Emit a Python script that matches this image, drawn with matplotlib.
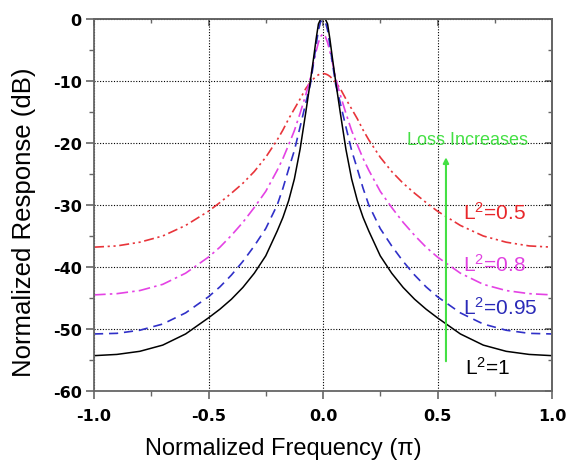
import matplotlib
matplotlib.use('Agg')
import matplotlib.pyplot as plt
from matplotlib.ticker import MultipleLocator

# Frecuencia normalizada (en unidades de pi)
freq = [-1.0, -0.9, -0.8, -0.7, -0.6, -0.5, -0.45, -0.4, -0.35, -0.3, -0.25, -0.2, -0.175, -0.15,
        -0.125, -0.1, -0.075, -0.055, -0.04, -0.03, -0.02, -0.01, 0.0, 0.01, 0.02, 0.03, 0.04,
        0.055, 0.075, 0.1, 0.125, 0.15, 0.175, 0.2, 0.25, 0.3, 0.35, 0.4, 0.45, 0.5, 0.6, 0.7,
        0.8, 0.9, 1.0]

# Respuesta normalizada (dB) para cada valor de L^2
resp_l100 = [-54.3, -54.1, -53.6, -52.6, -50.8, -48.2, -46.8, -45.2, -43.3, -41.0, -38.2, -34.2, -32.0, -29.3,
             -25.8, -21.0, -15.0, -10.0, -6.0, -3.2, -0.8, 0.0, 0.0, 0.0, -0.8, -3.2, -6.0,
             -10.0, -15.0, -21.0, -25.8, -29.3, -32.0, -34.2, -38.2, -41.0, -43.3, -45.2, -46.8, -48.2, -50.8, -52.6,
             -53.6, -54.1, -54.3]
resp_l095 = [-50.8, -50.7, -50.2, -49.2, -47.4, -44.8, -43.2, -41.3, -39.1, -36.6, -33.8, -30.0, -27.3, -24.2,
             -21.2, -17.4, -13.5, -10.5, -6.8, -4.2, -1.8, -0.4, -0.2, -0.4, -1.8, -4.2, -6.8,
             -10.5, -13.5, -17.4, -21.2, -24.2, -27.3, -30.0, -33.8, -36.6, -39.1, -41.3, -43.2, -44.8, -47.4, -49.2,
             -50.2, -50.7, -50.8]
resp_l080 = [-44.5, -44.3, -43.8, -42.8, -41.0, -38.4, -36.8, -34.9, -32.8, -30.4, -27.8, -24.4, -22.5, -20.3,
             -18.0, -15.2, -12.2, -9.5, -6.8, -5.2, -3.8, -2.8, -2.4, -2.8, -3.8, -5.2, -6.8,
             -9.5, -12.2, -15.2, -18.0, -20.3, -22.5, -24.4, -27.8, -30.4, -32.8, -34.9, -36.8, -38.4, -41.0, -42.8,
             -43.8, -44.3, -44.5]
resp_l050 = [-36.8, -36.6, -36.0, -35.0, -33.3, -31.0, -29.6, -28.1, -26.5, -24.6, -22.3, -19.5, -17.9, -16.1,
             -14.5, -12.9, -11.2, -10.2, -9.6, -9.25, -9.0, -8.85, -8.8, -8.85, -9.0, -9.25, -9.6,
             -10.2, -11.2, -12.9, -14.5, -16.1, -17.9, -19.5, -22.3, -24.6, -26.5, -28.1, -29.6, -31.0, -33.3, -35.0,
             -36.0, -36.6, -36.8]

x_ticks = [-1.0, -0.5, 0.0, 0.5, 1.0]
x_tick_labels = ['-1.0', '-0.5', '0.0', '0.5', '1.0']
y_ticks = [0, -10, -20, -30, -40, -50, -60]
y_tick_labels = ['0', '-10', '-20', '-30', '-40', '-50', '-60']

plt.rcParams['font.family'] = ['Liberation Sans', 'DejaVu Sans']
plt.rcParams['axes.unicode_minus'] = False
plt.rcParams['mathtext.fontset'] = 'custom'
plt.rcParams['mathtext.rm'] = 'Liberation Sans'

fig = plt.figure(figsize=(5.68, 4.64), dpi=100)
ax = fig.add_axes([94 / 568, 72 / 464, 458 / 568, 372 / 464])

ax.plot(freq, resp_l050, color='#e8343a', lw=1.2, dashes=(6, 2.2, 1.3, 2.2, 1.3, 2.2))
ax.plot(freq, resp_l080, color='#e442e4', lw=1.2, dashes=(7, 2.5, 1.5, 2.5))
ax.plot(freq, resp_l095, color='#3030c8', lw=1.2, dashes=(5.5, 3.5))
ax.plot(freq, resp_l100, color='black', lw=1.1)

tick_font = dict(family='DejaVu Sans', size=11.5, weight='bold')
ax.set_xlim(-1.0, 1.0)
ax.set_ylim(-60, 0)
ax.set_xticks(x_ticks)
ax.set_xticklabels(x_tick_labels, fontdict=tick_font)
ax.set_yticks(y_ticks)
ax.set_yticklabels(y_tick_labels, fontdict=tick_font)
ax.xaxis.set_minor_locator(MultipleLocator(0.25))
ax.yaxis.set_minor_locator(MultipleLocator(5))
ax.tick_params(which='major', direction='out', length=6, width=1.2, color='#666666')
ax.tick_params(which='minor', direction='out', length=3.5, width=1.0, color='#666666')
ax.tick_params(axis='x', which='major', pad=6)
ax.tick_params(axis='y', which='major', pad=3)
ax.grid(True, which='major', color='black', ls=(0, (1, 1.5)), lw=0.8)

# ticks espejados hacia dentro (arriba y derecha)
top = ax.secondary_xaxis('top')
top.set_xticks(x_ticks)
top.xaxis.set_minor_locator(MultipleLocator(0.25))
top.tick_params(which='both', direction='in', labeltop=False, color='#666666')
top.tick_params(which='major', length=5, width=1.2)
top.tick_params(which='minor', length=3, width=1.0)
right = ax.secondary_yaxis('right')
right.set_yticks(y_ticks)
right.yaxis.set_minor_locator(MultipleLocator(5))
right.tick_params(which='both', direction='in', labelright=False, color='#666666')
right.tick_params(which='major', length=5, width=1.2)
right.tick_params(which='minor', length=3, width=1.0)
for sp in list(ax.spines.values()) + [top.spines['top'], right.spines['right']]:
    sp.set_color('#666666')
    sp.set_linewidth(1.3)

fig.text(283 / 568, 1 - 449 / 464, 'Normalized Frequency (π)', fontsize=17, ha='center', va='center')
fig.text(24 / 568, 1 - 222 / 464, 'Normalized Response (dB)', fontsize=18.5, ha='center', va='center',
         rotation=90)

label_size = 15
ax.text(0.611, -32.3, r'$\mathregular{L^2}$=0.5', color='#e8262a', fontsize=label_size)
ax.text(0.611, -40.6, r'$\mathregular{L^2}$=0.8', color='#e040e0', fontsize=label_size)
ax.text(0.611, -47.6, r'$\mathregular{L^2}$=0.95', color='#2a2ab8', fontsize=label_size)
ax.text(0.62, -57.3, r'$\mathregular{L^2}$=1', color='black', fontsize=label_size)

green = '#44e044'
ax.text(0.629, -19.4, 'Loss Increases', color=green, fontsize=13, ha='center', va='center')
ax.annotate('', xy=(0.537, -22.3), xytext=(0.537, -55.2),
            arrowprops=dict(arrowstyle='-|>', color=green, lw=1.5, mutation_scale=8,
                            shrinkA=0, shrinkB=0))

fig.savefig('out.png', dpi=100)
